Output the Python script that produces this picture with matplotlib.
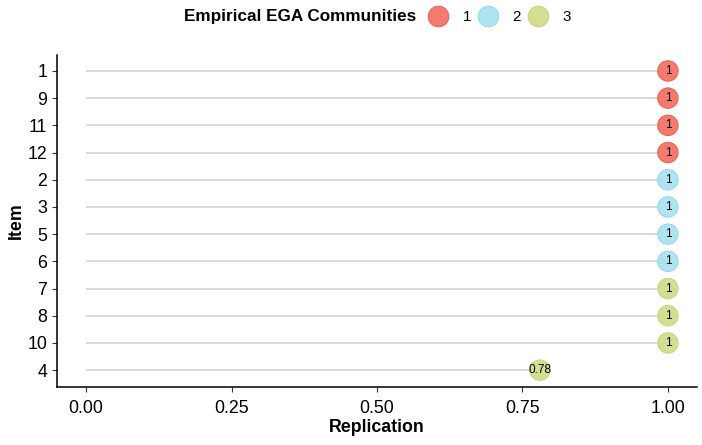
import matplotlib
matplotlib.use("Agg")
import matplotlib.pyplot as plt
from matplotlib.lines import Line2D

plt.rcParams['font.family'] = ['Liberation Sans', 'DejaVu Sans']

items = ["1", "9", "11", "12", "2", "3", "5", "6", "7", "8", "10", "4"]
replication = [1, 1, 1, 1, 1, 1, 1, 1, 1, 1, 1, 0.78]
community = [1, 1, 1, 1, 2, 2, 2, 2, 3, 3, 3, 3]
labels = ["1", "1", "1", "1", "1", "1", "1", "1", "1", "1", "1", "0.78"]
xticks = [0.0, 0.25, 0.5, 0.75, 1.0]
xticklabels = ["0.00", "0.25", "0.50", "0.75", "1.00"]

face = {1: "#F47A6E", 2: "#AEE3F0", 3: "#D3DE92"}
edge = {1: "#E8655A", 2: "#9AD8EA", 3: "#C8D783"}

fig = plt.figure(figsize=(7.02, 4.45), dpi=100)
ax = fig.add_axes([57/702, 1-386.5/445, 640/702, (386.5-54.6)/445])

n = len(items)
ypos = [n - i for i in range(n)]
for y, v in zip(ypos, replication):
    ax.plot([0, v], [y, y], color="#D9D9D9", lw=1.4, zorder=1, solid_capstyle="butt")
ax.scatter(replication, ypos, s=215, c=[face[c] for c in community],
           edgecolors=[edge[c] for c in community], linewidths=0.8, zorder=2)
for y, v, t in zip(ypos, replication, labels):
    ax.text(v, y, t, ha="center", va="center", fontsize=8.5, color="black", zorder=3)

ax.set_xlim(-0.05, 1.05)
ax.set_ylim(0.4, n + 0.6)
ax.set_yticks(ypos)
ax.set_yticklabels(items)
ax.set_xticks(xticks)
ax.set_xticklabels(xticklabels)
ax.tick_params(axis="both", labelsize=12.8, length=3.5, width=0.8, color="#333333", labelcolor="black")
ax.tick_params(axis="x", pad=6)
for s in ["top", "right"]:
    ax.spines[s].set_visible(False)
for s in ["left", "bottom"]:
    ax.spines[s].set_linewidth(1.1)
    ax.spines[s].set_color("black")
ax.set_xlabel("Replication", fontsize=12.8, fontweight="bold", labelpad=2)
ax.set_ylabel("Item", fontsize=12.8, fontweight="bold", labelpad=1.5)

fig.text(300/702, 1-17/445, "Empirical EGA Communities", ha="center", va="center",
         fontsize=12.3, fontweight="bold")
handles = [Line2D([], [], ls="", marker="o", markersize=14.8, markerfacecolor=face[k],
                  markeredgecolor=edge[k], markeredgewidth=0.8) for k in (1, 2, 3)]
fig.legend(handles, ["1", "2", "3"], loc="center left", bbox_to_anchor=(426/702, 1-17/445),
           ncol=3, frameon=False, fontsize=11, handletextpad=0.8, columnspacing=0.3,
           handlelength=1.6, borderpad=0, borderaxespad=0)

fig.savefig("out.png", dpi=100)
